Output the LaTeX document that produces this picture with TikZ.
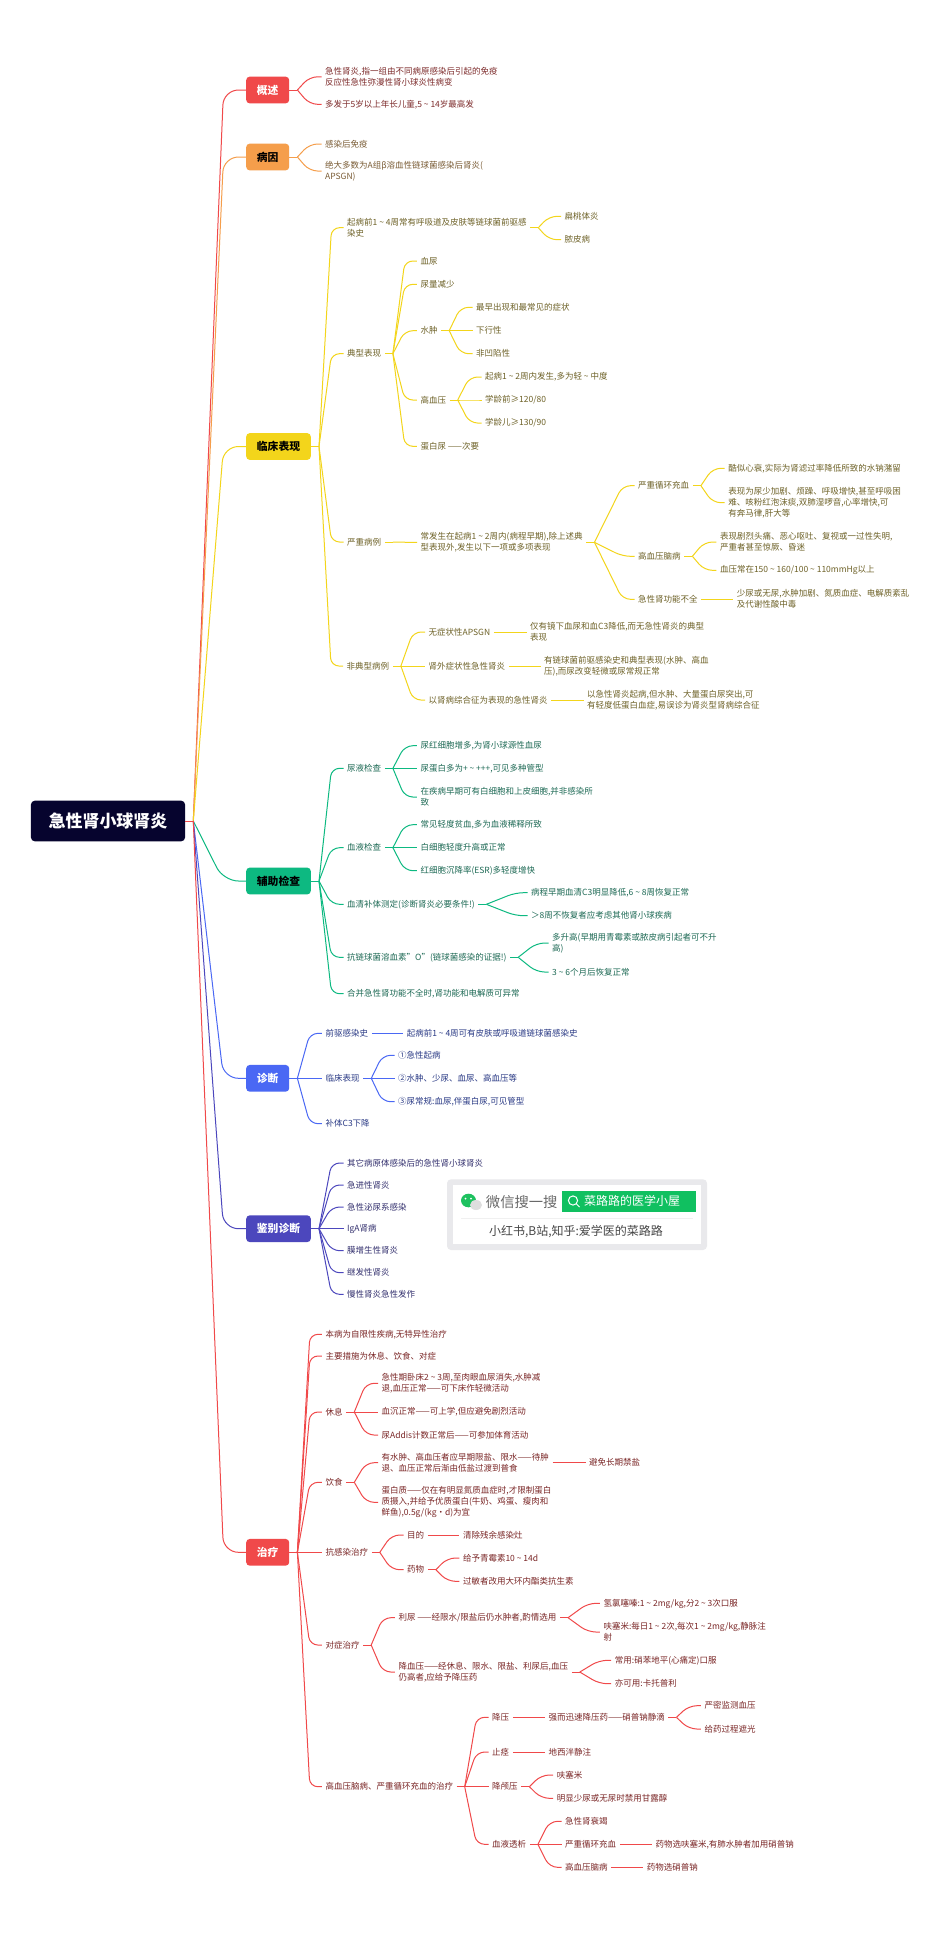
\documentclass[tikz,border=0pt]{standalone}
\usepackage{fontspec}
\setmainfont{Noto Sans CJK SC}
\usetikzlibrary{calc}

\newcommand{\tld}{\makebox[8.5pt]{\textasciitilde}}
\newcommand{\tstrut}{\rule[-1pt]{0pt}{8.5pt}}

\tikzset{
tx/.style={anchor=west,xshift=-3.5pt,inner xsep=3.5pt,inner ysep=0pt,align=left,text=brt,
  font=\fontsize{8.5}{11}\selectfont,execute at begin node=\tstrut,execute at end node=\tstrut},
topic/.style={anchor=west,inner xsep=10.7pt,inner ysep=0pt,minimum height=26.7pt,rounded corners=3.5pt,
  font=\fontsize{10.8}{13}\selectfont\bfseries},
ln/.style={draw=brl,line width=1pt}
}

% stub out of the parent, then one rounded line to each kid
\newcommand{\fan}[3][8]{
\draw[ln] (#2.east)--++(8,0) coordinate (j);
\foreach \kid in {#3}
{
\draw[ln,rounded corners=#1] (j)--([xshift=-1.5*#1]\kid.west)--(\kid.west);
}
}

\begin{document}
\begin{tikzpicture}[x=1pt,y=-1pt]
\useasboundingbox (0,0) rectangle (950,1939);
\fill[white] (0,0) rectangle (950,1939);

\node[anchor=west,fill={rgb,255:red,6;green,4;blue,46},text=white,inner xsep=17.6pt,inner ysep=0pt,minimum height=40.7pt,
  rounded corners=4pt,font=\fontsize{17}{20}\selectfont\bfseries] (root) at (30.7,821) {急性肾小球肾炎};

% gaishu
\definecolor{brl}{HTML}{F0494A}
\definecolor{brt}{HTML}{7D2B2B}
\node[topic,fill=brl,text=white] (gs) at (246,90) {概述};
\node[tx] (gs1) at (325,76.8) {急性肾炎,指一组由不同病原感染后引起的免疫\\反应性急性弥漫性肾小球炎性病变};
\node[tx] (gs2) at (325,104.3) {多发于5岁以上年长儿童,5\tld14岁最高发};
\fan[15]{root}{gs}
\fan{gs}{gs1,gs2}

% bingyin
\definecolor{brl}{HTML}{F59E4B}
\definecolor{brt}{HTML}{7A5C35}
\node[topic,fill=brl,text=black] (by) at (246,157) {病因};
\node[tx] (by1) at (325,144) {感染后免疫};
\node[tx] (by2) at (325,171) {绝大多数为A组β溶血性链球菌感染后肾炎(\\APSGN)};
\fan[15]{root}{by}
\fan{by}{by1,by2}

% linchuang
\definecolor{brl}{HTML}{F3D51B}
\definecolor{brt}{HTML}{6E6228}
\node[topic,fill=brl,text=black] (lc) at (246,446.5) {临床表现};
\node[tx] (lc1) at (347,227.7) {起病前1\tld4周常有呼吸道及皮肤等链球菌前驱感\\染史};
\node[tx] (lc11) at (564.5,216.3) {扁桃体炎};
\node[tx] (lc12) at (564.5,239.7) {脓皮病};
\node[tx] (lc2) at (347,353.7) {典型表现};
\node[tx] (lc21) at (420.3,261) {血尿};
\node[tx] (lc22) at (420.3,284.3) {尿量减少};
\node[tx] (lc23) at (420.3,330.7) {水肿};
\node[tx] (lc231) at (476,307.3) {最早出现和最常见的症状};
\node[tx] (lc232) at (476,330.7) {下行性};
\node[tx] (lc233) at (476,353.7) {非凹陷性};
\node[tx] (lc24) at (420.3,400) {高血压};
\node[tx] (lc241) at (485,377) {起病1\tld2周内发生,多为轻\tld{}中度};
\node[tx] (lc242) at (485,400) {学龄前≥120/80};
\node[tx] (lc243) at (485,423) {学龄儿≥130/90};
\node[tx] (lc25) at (420.3,446.3) {蛋白尿 ——次要};
\node[tx] (lc3) at (347,542) {严重病例};
\node[tx] (lc31) at (420.5,542.3) {常发生在起病1\tld2周内(病程早期),除上述典\\型表现外,发生以下一项或多项表现};
\node[tx] (lc311) at (638,485.7) {严重循环充血};
\node[tx] (lc3111) at (728.2,468.3) {酷似心衰,实际为肾滤过率降低所致的水钠潴留};
\node[tx] (lc3112) at (728.2,502.7) {表现为尿少加剧、烦躁、呼吸增快,甚至呼吸困\\难、咳粉红泡沫痰,双肺湿啰音,心率增快,可\\有奔马律,肝大等};
\node[tx] (lc312) at (638,556.3) {高血压脑病};
\node[tx] (lc3121) at (719.8,542) {表现剧烈头痛、恶心呕吐、复视或一过性失明,\\严重者甚至惊厥、昏迷};
\node[tx] (lc3122) at (719.8,570.3) {血压常在150\tld160/100\tld110mmHg以上};
\node[tx] (lc313) at (638,599.3) {急性肾功能不全};
\node[tx] (lc3131) at (736.7,599.3) {少尿或无尿,水肿加剧、氮质血症、电解质紊乱\\及代谢性酸中毒};
\node[tx] (lc4) at (346.5,666) {非典型病例};
\node[tx] (lc41) at (428.5,632) {无症状性APSGN};
\node[tx] (lc411) at (530,632) {仅有镜下血尿和血C3降低,而无急性肾炎的典型\\表现};
\node[tx] (lc42) at (428.5,666) {肾外症状性急性肾炎};
\node[tx] (lc421) at (544,666) {有链球菌前驱感染史和典型表现(水肿、高血\\压),而尿改变轻微或尿常规正常};
\node[tx] (lc43) at (428.5,700) {以肾病综合征为表现的急性肾炎};
\node[tx] (lc431) at (587,700) {以急性肾炎起病,但水肿、大量蛋白尿突出,可\\有轻度低蛋白血症,易误诊为肾炎型肾病综合征};
\fan[15]{root}{lc}
\fan{lc}{lc1,lc2,lc3,lc4}
\fan{lc1}{lc11,lc12}
\fan{lc2}{lc21,lc22,lc23,lc24,lc25}
\fan{lc23}{lc231,lc232,lc233}
\fan{lc24}{lc241,lc242,lc243}
\fan{lc3}{lc31}
\fan{lc31}{lc311,lc312,lc313}
\fan{lc311}{lc3111,lc3112}
\fan{lc312}{lc3121,lc3122}
\fan{lc313}{lc3131}
\fan{lc4}{lc41,lc42,lc43}
\fan{lc41}{lc411}
\fan{lc42}{lc421}
\fan{lc43}{lc431}

% fuzhu
\definecolor{brl}{HTML}{0DB981}
\definecolor{brt}{HTML}{1E6A55}
\node[topic,fill=brl,text=black] (fz) at (246,881) {辅助检查};
\node[tx] (fz1) at (347,768.3) {尿液检查};
\node[tx] (fz11) at (420.3,745.7) {尿红细胞增多,为肾小球源性血尿};
\node[tx] (fz12) at (420.3,768.3) {尿蛋白多为+\tld+++,可见多种管型};
\node[tx] (fz13) at (420.3,797) {在疾病早期可有白细胞和上皮细胞,并非感染所\\致};
\node[tx] (fz2) at (347,847.7) {血液检查};
\node[tx] (fz21) at (420.3,824.7) {常见轻度贫血,多为血液稀释所致};
\node[tx] (fz22) at (420.3,847.7) {白细胞轻度升高或正常};
\node[tx] (fz23) at (420.3,870.7) {红细胞沉降率(ESR)多轻度增快};
\node[tx] (fz3) at (347,904.3) {血清补体测定(诊断肾炎必要条件!)};
\node[tx] (fz31) at (531,892.7) {病程早期血清C3明显降低,6\tld8周恢复正常};
\node[tx] (fz32) at (531,915.7) {＞8周不恢复者应考虑其他肾小球疾病};
\node[tx] (fz4) at (347,957.3) {抗链球菌溶血素"O"(链球菌感染的证据!)};
\node[tx] (fz41) at (552,943) {多升高(早期用青霉素或脓皮病引起者可不升\\高)};
\node[tx] (fz42) at (552,972) {3\tld6个月后恢复正常};
\node[tx] (fz5) at (347,993.7) {合并急性肾功能不全时,肾功能和电解质可异常};
\fan[15]{root}{fz}
\fan{fz}{fz1,fz2,fz3,fz4,fz5}
\fan{fz1}{fz11,fz12,fz13}
\fan{fz2}{fz21,fz22,fz23}
\fan{fz3}{fz31,fz32}
\fan{fz4}{fz41,fz42}

% zhenduan
\definecolor{brl}{HTML}{4A68F4}
\definecolor{brt}{HTML}{2A3A85}
\node[topic,fill=brl,text=white] (zd) at (246,1078.3) {诊断};
\node[tx] (zd1) at (325.4,1033.3) {前驱感染史};
\node[tx] (zd11) at (406.6,1033.3) {起病前1\tld4周可有皮肤或呼吸道链球菌感染史};
\node[tx] (zd2) at (325.4,1078.3) {临床表现};
\node[tx] (zd21) at (398,1055.3) {①急性起病};
\node[tx] (zd22) at (398,1078.3) {②水肿、少尿、血尿、高血压等};
\node[tx] (zd23) at (398,1101.7) {③尿常规:血尿,伴蛋白尿,可见管型};
\node[tx] (zd3) at (325.4,1123.7) {补体C3下降};
\fan[15]{root}{zd}
\fan{zd}{zd1,zd2,zd3}
\fan{zd1}{zd11}
\fan{zd2}{zd21,zd22,zd23}

% jianbie
\definecolor{brl}{HTML}{4C47BD}
\definecolor{brt}{HTML}{33306E}
\node[topic,fill=brl,text=white] (jb) at (246,1228.7) {鉴别诊断};
\node[tx] (jb1) at (347,1163) {其它病原体感染后的急性肾小球肾炎};
\node[tx] (jb2) at (347,1185) {急进性肾炎};
\node[tx] (jb3) at (347,1207) {急性泌尿系感染};
\node[tx] (jb4) at (347,1228.7) {IgA肾病};
\node[tx] (jb5) at (347,1250.7) {膜增生性肾炎};
\node[tx] (jb6) at (347,1272.7) {继发性肾炎};
\node[tx] (jb7) at (347,1294.3) {慢性肾炎急性发作};
\fan[15]{root}{jb}
\fan{jb}{jb1,jb2,jb3,jb4,jb5,jb6,jb7}

% search card
\fill[rounded corners=4pt,color={rgb,255:red,233;green,233;blue,236}] (447,1179.3) rectangle (707,1250);
\fill[white] (453,1185) rectangle (701,1244);
\fill[color={rgb,255:red,30;green,193;blue,95}] (468.5,1200.5) ellipse (7.5 and 6.8);
\fill[color={rgb,255:red,222;green,222;blue,222}] (476,1205) ellipse (6 and 5);
\fill[white] (465.5,1198.5) circle (1) (471,1198.5) circle (1);
\node[font=\fontsize{14.3}{16}\selectfont,text={rgb,255:red,105;green,105;blue,105},inner sep=0pt] (wx) at (521.7,1202) {微信搜一搜};
\node[fill={rgb,255:red,16;green,192;blue,96},text=white,font=\fontsize{12}{14}\selectfont,minimum width=134pt,minimum height=21pt,
  inner xsep=0pt,inner ysep=0pt,anchor=west,text depth=2pt,text height=9pt,align=right] (ss) at (562,1201.5) {\hspace*{22pt}菜路路的医学小屋\hspace*{16pt}};
\draw[white,line width=1pt] (573,1200.5) circle (4.6) (576.3,1203.8)--(579.5,1207);
\draw[color={rgb,255:red,240;green,240;blue,240},line width=.8pt] (461,1218)--(693,1218);
\node[font=\fontsize{12}{14}\selectfont,text={rgb,255:red,70;green,70;blue,70},inner sep=0pt] (xhs) at (576,1232) {小红书,B站,知乎:爱学医的菜路路};

% zhiliao
\definecolor{brl}{HTML}{F0494A}
\definecolor{brt}{HTML}{7A2626}
\node[topic,fill=brl,text=white] (zl) at (246,1552.3) {治疗};
\node[tx] (zl1) at (325.4,1334.3) {本病为自限性疾病,无特异性治疗};
\node[tx] (zl2) at (325.4,1356) {主要措施为休息、饮食、对症};
\node[tx] (zl3) at (325.4,1412) {休息};
\node[tx] (zl31) at (381.5,1383.3) {急性期卧床2\tld3周,至肉眼血尿消失,水肿减\\退,血压正常——可下床作轻微活动};
\node[tx] (zl32) at (381.5,1412) {血沉正常——可上学,但应避免剧烈活动};
\node[tx] (zl33) at (381.5,1435) {尿Addis计数正常后——可参加体育活动};
\node[tx] (zl4) at (325.4,1482.3) {饮食};
\node[tx] (zl41) at (381.5,1462.7) {有水肿、高血压者应早期限盐、限水——待肿\\退、血压正常后渐由低盐过渡到普食};
\node[tx] (zl411) at (589,1462.7) {避免长期禁盐};
\node[tx] (zl42) at (381.5,1502.3) {蛋白质——仅在有明显氮质血症时,才限制蛋白\\质摄入,并给予优质蛋白(牛奶、鸡蛋、瘦肉和\\鲜鱼),0.5g/(kg·d)为宜};
\node[tx] (zl5) at (325.4,1552.3) {抗感染治疗};
\node[tx] (zl51) at (407,1535) {目的};
\node[tx] (zl511) at (462.8,1535) {清除残余感染灶};
\node[tx] (zl52) at (407,1569.7) {药物};
\node[tx] (zl521) at (462.8,1558) {给予青霉素10\tld14d};
\node[tx] (zl522) at (462.8,1581.3) {过敏者改用大环内酯类抗生素};
\node[tx] (zl6) at (325.3,1645) {对症治疗};
\node[tx] (zl61) at (398.3,1617.7) {利尿 ——经限水/限盐后仍水肿者,酌情选用};
\node[tx] (zl611) at (603.3,1603.3) {氢氯噻嗪:1\tld2mg/kg,分2\tld3次口服};
\node[tx] (zl612) at (603.3,1632) {呋塞米:每日1\tld2次,每次1\tld2mg/kg,静脉注\\射};
\node[tx] (zl62) at (398.3,1672) {降血压——经休息、限水、限盐、利尿后,血压\\仍高者,应给予降压药};
\node[tx] (zl621) at (614.7,1660.3) {常用:硝苯地平(心痛定)口服};
\node[tx] (zl622) at (614.7,1683.7) {亦可用:卡托普利};
\node[tx] (zl7) at (325.3,1786.7) {高血压脑病、严重循环充血的治疗};
\node[tx] (zl71) at (492,1717.3) {降压};
\node[tx] (zl711) at (548.3,1717.3) {强而迅速降压药——硝普钠静滴};
\node[tx] (zl7111) at (704.3,1705.7) {严密监测血压};
\node[tx] (zl7112) at (704.3,1729) {给药过程遮光};
\node[tx] (zl72) at (492,1752) {止痉};
\node[tx] (zl721) at (548.3,1752) {地西泮静注};
\node[tx] (zl73) at (492,1786.7) {降颅压};
\node[tx] (zl731) at (556.7,1775) {呋塞米};
\node[tx] (zl732) at (556.7,1798.3) {明显少尿或无尿时禁用甘露醇};
\node[tx] (zl74) at (492,1844.3) {血液透析};
\node[tx] (zl741) at (565,1821.3) {急性肾衰竭};
\node[tx] (zl742) at (565,1844.3) {严重循环充血};
\node[tx] (zl7421) at (655.3,1844.3) {药物选呋塞米,有肺水肿者加用硝普钠};
\node[tx] (zl743) at (565,1867.3) {高血压脑病};
\node[tx] (zl7431) at (646.7,1867.3) {药物选硝普钠};
\fan[15]{root}{zl}
\fan{zl}{zl1,zl2,zl3,zl4,zl5,zl6,zl7}
\fan{zl3}{zl31,zl32,zl33}
\fan{zl4}{zl41,zl42}
\fan{zl41}{zl411}
\fan{zl5}{zl51,zl52}
\fan{zl51}{zl511}
\fan{zl52}{zl521,zl522}
\fan{zl6}{zl61,zl62}
\fan{zl61}{zl611,zl612}
\fan{zl62}{zl621,zl622}
\fan{zl7}{zl71,zl72,zl73,zl74}
\fan{zl71}{zl711}
\fan{zl711}{zl7111,zl7112}
\fan{zl72}{zl721}
\fan{zl73}{zl731,zl732}
\fan{zl74}{zl741,zl742,zl743}
\fan{zl742}{zl7421}
\fan{zl743}{zl7431}
\end{tikzpicture}
\end{document}
